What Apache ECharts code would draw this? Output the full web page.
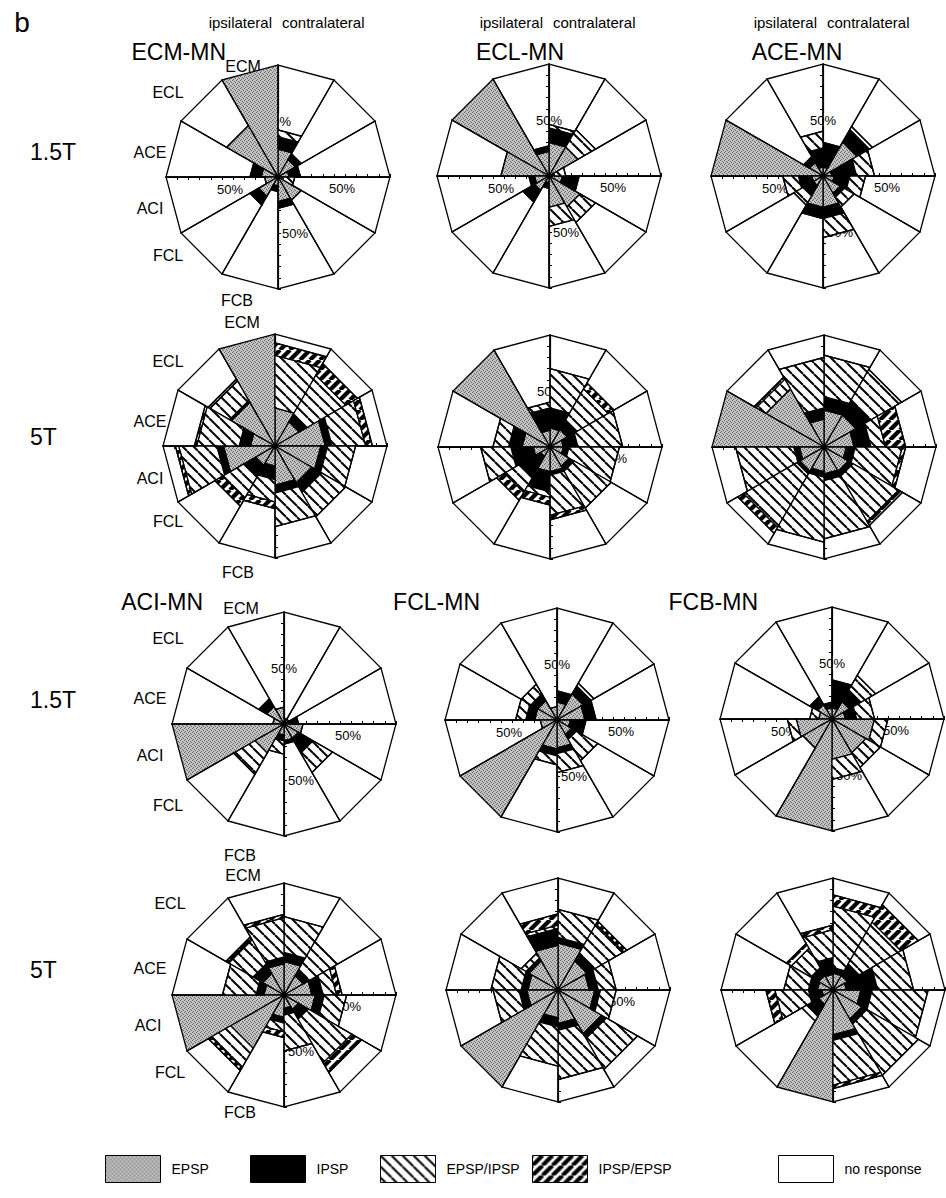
<!DOCTYPE html>
<html>
<head>
<meta charset="utf-8">
<title>Motor neuron responses to afferent stimulation</title>
<script src="https://cdn.jsdelivr.net/npm/echarts@6/dist/echarts.min.js"></script>
<style>
html, body { margin: 0; padding: 0; background: #fff; }
#chart { width: 946px; height: 1198px; }
</style>
</head>
<body>
<div id="chart"></div>
<script>
// Sector order within each half of a rose, from top to bottom
const muscles = ['ECM', 'ECL', 'ACE', 'ACI', 'FCL', 'FCB'];
// Response classes, stacked from the centre outwards
const responseTypes = ['EPSP', 'IPSP', 'EPSP/IPSP', 'IPSP/EPSP', 'no response'];
const radialTicks = [0, 10, 20, 30, 40, 50, 60, 70, 80, 90, 100];

// Percent of stimulated nerves per muscle: [EPSP, IPSP, EPSP/IPSP, IPSP/EPSP]
// ECM-MN, 1.5T
const ecmMn15Ipsi   = [[100,0,0,0],[53,0,0,0],[15,10,0,0],[12,0,0,0],[20,9,0,0],[8,5,0,0]];
const ecmMn15Contra = [[25,11,6,0],[18,6,0,0],[10,10,0,0],[5,0,10,0],[24,0,0,0],[22,6,0,0]];
// ECL-MN, 1.5T
const eclMn15Ipsi   = [[22,5,0,0],[100,0,0,0],[43,0,0,0],[13,5,0,0],[15,12,0,0],[6,5,0,0]];
const eclMn15Contra = [[30,13,3,0],[30,0,18,0],[5,0,10,0],[12,15,0,0],[32,0,16,0],[28,0,17,0]];
// ACE-MN, 1.5T
const aceMn15Ipsi   = [[8,17,15,0],[14,6,0,0],[100,0,0,0],[10,12,14,0],[10,10,10,0],[28,10,0,0]];
const aceMn15Contra = [[8,22,0,0],[35,13,3,0],[8,22,16,0],[10,14,14,0],[18,4,10,0],[28,10,17,0]];
// ECM-MN, 5T
const ecmMn5Ipsi    = [[100,0,0,0],[45,2,20,2],[22,10,38,2],[46,6,34,3],[20,12,22,8],[18,12,20,6]];
const ecmMn5Contra  = [[34,0,47,11],[25,8,40,12],[45,6,30,6],[41,6,25,0],[38,10,25,0],[35,7,30,0]];
// ECL-MN, 5T
const eclMn5Ipsi    = [[15,20,5,0],[100,0,0,0],[25,12,14,0],[15,20,27,0],[10,22,15,8],[22,18,5,7]];
const eclMn5Contra  = [[17,18,35,0],[18,10,32,6],[12,13,40,0],[12,5,45,0],[20,5,38,0],[22,3,36,4]];
// ACE-MN, 5T
const aceMn5Ipsi    = [[25,10,45,0],[60,0,10,2],[100,0,0,0],[22,5,52,0],[25,3,55,6],[22,5,58,0]];
const aceMn5Contra  = [[33,12,37,0],[33,15,32,0],[27,15,13,18],[20,8,42,3],[25,5,47,4],[24,6,52,0]];
// ACI-MN, 1.5T
const aciMn15Ipsi   = [[15,0,0,0],[18,8,0,0],[10,0,0,0],[100,0,0,0],[30,0,22,0],[10,5,12,0]];
const aciMn15Contra = [[5,0,0,0],[5,0,0,0],[5,8,0,0],[17,0,0,0],[15,15,20,0],[15,3,0,0]];
// FCL-MN, 1.5T
const fclMn15Ipsi   = [[12,0,0,0],[20,7,10,0],[20,8,9,0],[15,0,0,0],[100,0,0,0],[26,6,8,0]];
const fclMn15Contra = [[16,10,0,0],[27,8,3,0],[25,10,0,0],[12,14,0,0],[15,5,22,0],[25,5,17,0]];
// FCB-MN, 1.5T
const fcbMn15Ipsi   = [[10,5,0,0],[15,8,0,0],[12,0,8,0],[32,0,8,0],[30,0,0,0],[100,0,0,0]];
const fcbMn15Contra = [[10,25,0,0],[18,12,15,0],[12,10,16,0],[38,0,12,0],[35,0,15,0],[36,0,18,0]];
// ACI-MN, 5T
const aciMn5Ipsi    = [[28,6,35,3],[22,10,25,3],[18,7,30,0],[100,0,0,0],[55,0,20,3],[20,5,8,5]];
const aciMn5Contra  = [[30,8,32,0],[20,5,30,0],[25,10,12,5],[28,8,20,0],[15,10,45,10],[12,6,32,0]];
// FCL-MN, 5T
const fclMn5Ipsi    = [[40,15,3,10],[30,3,5,0],[27,6,27,0],[28,7,23,0],[100,0,0,0],[25,8,35,0]];
const fclMn5Contra  = [[42,5,25,0],[30,8,30,3],[28,8,16,0],[33,5,14,0],[45,5,32,0],[30,6,44,0]];
// FCB-MN, 5T
const fcbMn5Ipsi    = [[14,15,25,4],[15,8,20,5],[14,8,22,0],[10,12,30,8],[15,12,5,0],[100,0,0,0]];
const fcbMn5Contra  = [[15,5,55,10],[15,12,43,18],[12,28,32,0],[25,10,50,0],[30,5,53,0],[40,5,40,3]];

// Panel layout: rose centres in pixels
const panels = [
  { ipsi: ecmMn15Ipsi, contra: ecmMn15Contra, center: [278, 177] },
  { ipsi: eclMn15Ipsi, contra: eclMn15Contra, center: [549, 176] },
  { ipsi: aceMn15Ipsi, contra: aceMn15Contra, center: [823, 176] },
  { ipsi: ecmMn5Ipsi,  contra: ecmMn5Contra,  center: [275, 446] },
  { ipsi: eclMn5Ipsi,  contra: eclMn5Contra,  center: [550, 447] },
  { ipsi: aceMn5Ipsi,  contra: aceMn5Contra,  center: [824, 447] },
  { ipsi: aciMn15Ipsi, contra: aciMn15Contra, center: [284, 724] },
  { ipsi: fclMn15Ipsi, contra: fclMn15Contra, center: [557, 720] },
  { ipsi: fcbMn15Ipsi, contra: fcbMn15Contra, center: [832, 719] },
  { ipsi: aciMn5Ipsi,  contra: aciMn5Contra,  center: [284, 995] },
  { ipsi: fclMn5Ipsi,  contra: fclMn5Contra,  center: [558, 990] },
  { ipsi: fcbMn5Ipsi,  contra: fcbMn5Contra,  center: [833, 990] }
];
const ROSE_RADIUS = 112;
const FONT = "'Liberation Sans', Arial, Helvetica, sans-serif";

// ---- fills -------------------------------------------------------------
function tile(w, h, draw) {
  const c = document.createElement('canvas');
  c.width = w; c.height = h;
  draw(c.getContext('2d'), w, h);
  return { image: c.toDataURL(), repeat: 'repeat', imageWidth: w, imageHeight: h };
}
const stipple = tile(4, 4, (g) => {
  g.fillStyle = '#c4c4c4'; g.fillRect(0, 0, 4, 4);
  g.fillStyle = '#666';
  [[0, 0], [2, 1], [1, 3], [3, 2]].forEach(([x, y]) => g.fillRect(x, y, 1, 1));
});
const thinHatch = tile(11, 11, (g, w, h) => {
  g.fillStyle = '#fff'; g.fillRect(0, 0, w, h);
  g.strokeStyle = '#000'; g.lineWidth = 2;
  for (let k = -1; k <= 1; k++) { g.beginPath(); g.moveTo(k * w, 0); g.lineTo(k * w + w, h); g.stroke(); }
});
const thickHatch = tile(10, 10, (g, w, h) => {
  g.fillStyle = '#fff'; g.fillRect(0, 0, w, h);
  g.strokeStyle = '#000'; g.lineWidth = 4.2;
  for (let k = -1; k <= 1; k++) { g.beginPath(); g.moveTo(k * w, h); g.lineTo(k * w + w, 0); g.stroke(); }
});
const layerFills = [stipple, '#000', thinHatch, thickHatch, '#fff'];

// ---- data to bands -----------------------------------------------------
// Angles run clockwise from 12 o'clock; contralateral on the right, ipsilateral mirrored on the left.
function bandData(panel, layer) {
  const out = [];
  [['contra', panel.contra], ['ipsi', panel.ipsi]].forEach(([side, rows]) => {
    rows.forEach((vals, i) => {
      const a0 = side === 'contra' ? 30 * i : 330 - 30 * i;
      let inner = 0;
      for (let k = 0; k < layer; k++) inner += vals[k];
      const outer = layer < 4 ? inner + vals[layer] : 100;
      out.push([outer, a0, inner, a0 + 30]);
    });
  });
  return out;
}

function bandRenderer(layer) {
  return function (params, api) {
    const outer = api.value(0), a0 = api.value(1), inner = api.value(2), a1 = api.value(3);
    if (outer - inner <= 0) return null;
    const pts = [api.coord([inner, a0]), api.coord([outer, a0]), api.coord([outer, a1]), api.coord([inner, a1])];
    return {
      type: 'polygon',
      shape: { points: pts },
      style: { fill: layer === 4 ? 'none' : layerFills[layer], stroke: '#000', lineWidth: 1.3, lineJoin: 'miter' }
    };
  };
}

// ---- axes: four half-axes per rose, each a radius axis -------------------
const halfAxes = [
  { start: 90,  label: { align: 'center', verticalAlign: 'middle', margin: 0, backgroundColor: '#fff' } },
  { start: 0,   label: { align: 'center', verticalAlign: 'middle', margin: -11, padding: [0, 0, 0, 16] } },
  { start: 180, label: { align: 'center', verticalAlign: 'middle', margin: 12, padding: [0, 0, 0, 16] } },
  { start: 270, label: { align: 'left',   verticalAlign: 'middle', margin: 4, padding: [8, 0, 0, 0] } }
];

const polar = [], angleAxis = [], radiusAxis = [], series = [];
panels.forEach((panel, p) => {
  halfAxes.forEach((ax, d) => {
    const idx = p * 4 + d;
    polar.push({ center: panel.center, radius: ROSE_RADIUS });
    angleAxis.push({
      polarIndex: idx, type: 'value', min: 0, max: 360, startAngle: ax.start,
      clockwise: true, show: false
    });
    radiusAxis.push({
      polarIndex: idx, type: 'value', min: radialTicks[0], max: radialTicks[radialTicks.length - 1],
      interval: radialTicks[1] - radialTicks[0],
      axisLine: { show: true, lineStyle: { color: '#000', width: 1.2 } },
      axisTick: { show: true, length: 3, lineStyle: { color: '#000', width: 1 } },
      splitLine: { show: false },
      axisLabel: Object.assign({
        show: true, fontFamily: FONT, fontSize: 13, color: '#000',
        formatter: (v) => (v === 50 ? '50%' : '')
      }, ax.label),
      silent: true
    });
  });
  responseTypes.forEach((name, layer) => {
    series.push({
      type: 'custom', name: name, coordinateSystem: 'polar', polarIndex: p * 4,
      itemStyle: { color: layerFills[layer] },
      renderItem: bandRenderer(layer),
      data: bandData(panel, layer),
      silent: true, animation: false, z: 3
    });
  });
});

// ---- text ----------------------------------------------------------------
function text(x, y, s, size, align) {
  return {
    type: 'text', x: x, y: y, silent: true,
    style: { text: s, font: size + 'px ' + FONT, fill: '#000', textAlign: align || 'center', textVerticalAlign: 'middle' }
  };
}
const columnAxes = [278, 549, 823];
const graphics = [text(22, 22, 'b', 28)];
columnAxes.forEach((x) => {
  graphics.push(text(x - 6, 22, 'ipsilateral', 15, 'right'));
  graphics.push(text(x + 4, 22, 'contralateral', 15, 'left'));
});
const panelTitles = [
  ['ECM-MN', 226, 52, 'right'], ['ECL-MN', 520, 52, 'center'], ['ACE-MN', 797, 52, 'center'],
  ['ACI-MN', 203, 602, 'right'], ['FCL-MN', 480, 602, 'right'], ['FCB-MN', 758, 602, 'right']
];
panelTitles.forEach(([s, x, y, a]) => graphics.push(text(x, y, s, 23, a)));
const fieldLabels = [['1.5T', 152], ['5T', 437], ['1.5T', 700], ['5T', 970]];
fieldLabels.forEach(([s, y]) => graphics.push(text(30, y, s, 23, 'left')));
const muscleLabelSpots = [
  [[243, 66], [168, 92], [150, 152], [150, 208], [168, 255], [237, 300]],
  [[242, 322], [168, 361], [150, 421], [150, 478], [168, 521], [238, 572]],
  [[241, 608], [168, 638], [150, 698], [150, 755], [168, 805], [240, 855]],
  [[243, 875], [170, 903], [150, 968], [148, 1025], [170, 1072], [240, 1112]]
];
muscleLabelSpots.forEach((row) => row.forEach(([x, y], i) => graphics.push(text(x, y, muscles[i], 16))));

// ---- legend ----------------------------------------------------------------
const legendLefts = [105, 250, 380, 532, 778];
const legend = responseTypes.map((name, i) => ({
  data: [name], left: legendLefts[i], top: 1155, padding: 0, itemGap: 0,
  icon: 'rect', itemWidth: 55, itemHeight: 27, selectedMode: false,
  itemStyle: { borderColor: '#000', borderWidth: 1 },
  textStyle: { fontFamily: FONT, fontSize: 14, color: '#000', padding: [0, 0, 0, 6] }
}));

const chart = echarts.init(document.getElementById('chart'), null, { renderer: 'svg' });
chart.setOption({
  backgroundColor: '#fff',
  animation: false,
  polar: polar,
  angleAxis: angleAxis,
  radiusAxis: radiusAxis,
  legend: legend,
  series: series,
  graphic: graphics
});
</script>
</body>
</html>
